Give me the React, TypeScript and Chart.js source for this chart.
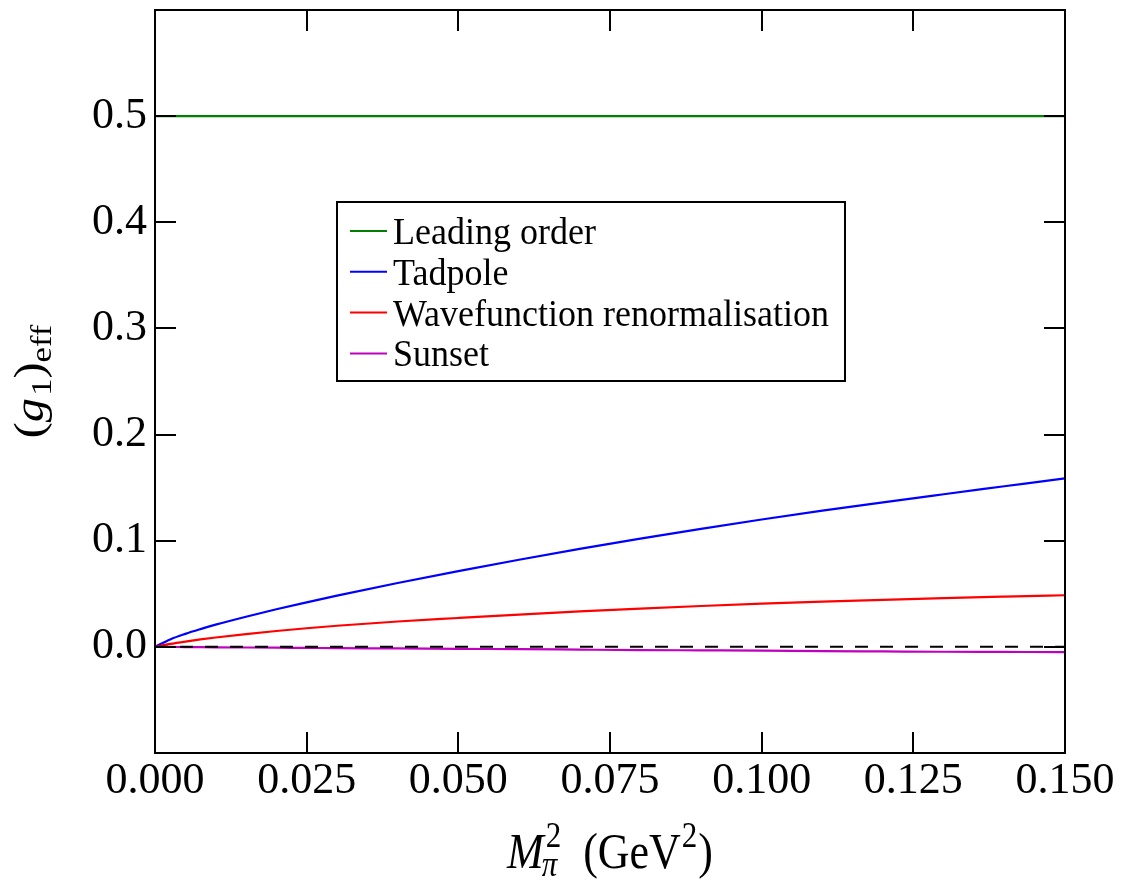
import React, { useEffect, useRef } from "react";
import { Chart, registerables } from "chart.js";

Chart.register(...registerables);

// ---- data ----
const xValues = [0, 0.0025, 0.005, 0.0075, 0.01, 0.015, 0.02, 0.025, 0.03, 0.04, 0.05, 0.06, 0.07, 0.08, 0.09, 0.1, 0.11, 0.12, 0.13, 0.14, 0.15];
const leadingOrder = [0.5, 0.5, 0.5, 0.5, 0.5, 0.5, 0.5, 0.5, 0.5, 0.5, 0.5, 0.5, 0.5, 0.5, 0.5, 0.5, 0.5, 0.5, 0.5, 0.5, 0.5];
const tadpole = [0, 0.007, 0.01225, 0.01675, 0.0209, 0.0284, 0.0354, 0.0419, 0.0482, 0.0602, 0.0714, 0.0821, 0.0923, 0.102, 0.1112, 0.12, 0.1283, 0.1362, 0.1438, 0.1513, 0.1588];
const wavefunction = [0, 0.00275, 0.005, 0.007, 0.0088, 0.01205, 0.01495, 0.01755, 0.0199, 0.0239, 0.0272, 0.0304, 0.0334, 0.0361, 0.0385, 0.0407, 0.0426, 0.0443, 0.0459, 0.0473, 0.0486];
const sunset = [0, -0.0001, -0.0002, -0.0003, -0.0004, -0.0006, -0.0008, -0.001, -0.0012, -0.0015, -0.0019, -0.0022, -0.0026, -0.003, -0.0033, -0.0036, -0.004, -0.0043, -0.0046, -0.0048, -0.005];
const zeroLineX = [0, 0.15];
const zeroLineY = [0, 0];

const seriesLabels = ["Leading order", "Tadpole", "Wavefunction renormalisation", "Sunset"];
const xTickValues = [0, 0.025, 0.05, 0.075, 0.1, 0.125, 0.15];
const yTickValues = [0, 0.1, 0.2, 0.3, 0.4, 0.5];

const SERIF = '"Liberation Serif", "DejaVu Serif", serif';
const TICK = 21;

function pts(xs: number[], ys: number[]) {
  return xs.map((x, i) => ({ x, y: ys[i] }));
}

function piece(ctx: CanvasRenderingContext2D, s: string, x: number, y: number, font: string, sx = 1, sy = 1) {
  ctx.save();
  ctx.translate(x, y);
  ctx.scale(sx, sy);
  ctx.font = font;
  ctx.fillText(s, 0, 0);
  ctx.restore();
}

function w(ctx: CanvasRenderingContext2D, s: string, font: string) {
  ctx.font = font;
  return ctx.measureText(s).width;
}

const decorPlugin = {
  id: "decor",
  afterDatasetsDraw(chart: any) {
    const { ctx, chartArea: a, scales } = chart;
    const xs = scales.x;
    const ys = scales.y;
    ctx.save();
    ctx.strokeStyle = "#000";
    ctx.lineWidth = 2;
    ctx.beginPath();
    for (const v of xTickValues) {
      const px = Math.round(xs.getPixelForValue(v));
      if (px <= a.left + 1 || px >= a.right - 1) continue;
      ctx.moveTo(px, a.bottom);
      ctx.lineTo(px, a.bottom - TICK);
      ctx.moveTo(px, a.top);
      ctx.lineTo(px, a.top + TICK);
    }
    for (const v of yTickValues) {
      const py = Math.round(ys.getPixelForValue(v));
      if (py <= a.top + 1 || py >= a.bottom - 1) continue;
      ctx.moveTo(a.left, py);
      ctx.lineTo(a.left + TICK, py);
      ctx.moveTo(a.right, py);
      ctx.lineTo(a.right - TICK, py);
    }
    ctx.stroke();
    ctx.strokeRect(a.left, a.top, a.right - a.left, a.bottom - a.top);

    // legend
    const lx = a.left + 182;
    const ly = a.top + 192;
    const lw = 508;
    const lh = 179;
    ctx.fillStyle = "#fff";
    ctx.fillRect(lx, ly, lw, lh);
    ctx.strokeRect(lx, ly, lw, lh);
    const legendFont = `36px ${SERIF}`;
    const items = chart.data.datasets.filter((d: any) => d.label);
    items.forEach((d: any, i: number) => {
      const rowY = ly + 29 + i * 40.8;
      ctx.strokeStyle = d.borderColor;
      ctx.lineWidth = 2;
      ctx.beginPath();
      ctx.moveTo(lx + 13, rowY);
      ctx.lineTo(lx + 50, rowY);
      ctx.stroke();
      ctx.fillStyle = "#000";
      ctx.textBaseline = "alphabetic";
      ctx.textAlign = "left";
      piece(ctx, d.label, lx + 56, rowY + 13, legendFont, 1, 1.05);
    });

    // x-axis title: M_pi^2 (GeV^2)
    ctx.fillStyle = "#000";
    ctx.textAlign = "left";
    ctx.textBaseline = "alphabetic";
    const big = `44px ${SERIF}`;
    const bigI = `italic 44px ${SERIF}`;
    const small = `31px ${SERIF}`;
    const smallI = `italic 31px ${SERIF}`;
    const sy = 1.15;
    const wM = w(ctx, "M", bigI);
    const wSup = Math.max(w(ctx, "2", small) + 2, w(ctx, "π", smallI) - 2);
    const gap = 22;
    const wOpen = w(ctx, "(GeV", big);
    const w2 = w(ctx, "2", small);
    const wClose = w(ctx, ")", big);
    const total = wM + wSup + gap + wOpen + w2 + 2 + wClose;
    const base = 868;
    let x = (a.left + a.right) / 2 - total / 2;
    piece(ctx, "M", x, base, bigI, 1, sy);
    x += wM;
    piece(ctx, "2", x + 2, base - 21, small, 1, sy);
    piece(ctx, "π", x - 2, base + 8, smallI, 1, sy);
    x += wSup + gap;
    piece(ctx, "(GeV", x, base, big, 1, sy);
    x += wOpen;
    piece(ctx, "2", x + 1, base - 21, small, 1, sy);
    x += w2 + 2;
    piece(ctx, ")", x, base, big, 1, sy);

    // y-axis title: (g_1)_eff
    ctx.save();
    ctx.translate(43, (a.top + a.bottom) / 2);
    ctx.rotate(-Math.PI / 2);
    const yBig = `42px ${SERIF}`;
    const yBigI = `italic 42px ${SERIF}`;
    const ySmall = `30px ${SERIF}`;
    const parts: [string, string, number][] = [
      ["(", yBig, 0],
      ["g", yBigI, 0],
      ["1", ySmall, 8],
      [")", yBig, 0],
      ["eff", ySmall, 8],
    ];
    let tw = 0;
    for (const p of parts) tw += w(ctx, p[0], p[1]) + (p[0] === "g" ? 2 : 0);
    ctx.scale(1.15, 1);
    let tx = -tw / 2;
    for (const p of parts) {
      ctx.font = p[1];
      ctx.fillText(p[0], tx, p[2]);
      tx += w(ctx, p[0], p[1]) + (p[0] === "g" ? 2 : 0);
    }
    ctx.restore();

    ctx.restore();
  },
};

export default function App() {
  const ref = useRef<HTMLCanvasElement | null>(null);

  useEffect(() => {
    if (!ref.current) return;
    const chart = new Chart(ref.current, {
      type: "line",
      data: {
        datasets: [
          {
            data: pts(zeroLineX, zeroLineY),
            borderColor: "#000000",
            borderWidth: 2,
            borderDash: [13, 12],
            pointRadius: 0,
            order: 0,
          } as any,
          {
            label: seriesLabels[0],
            data: pts(xValues, leadingOrder),
            borderColor: "#008000",
            borderWidth: 2.2,
            pointRadius: 0,
            order: 4,
          },
          {
            label: seriesLabels[1],
            data: pts(xValues, tadpole),
            borderColor: "#0000ff",
            borderWidth: 2.2,
            pointRadius: 0,
            cubicInterpolationMode: "monotone",
            order: 3,
          },
          {
            label: seriesLabels[2],
            data: pts(xValues, wavefunction),
            borderColor: "#ff0000",
            borderWidth: 2.2,
            pointRadius: 0,
            cubicInterpolationMode: "monotone",
            order: 2,
          },
          {
            label: seriesLabels[3],
            data: pts(xValues, sunset),
            borderColor: "#bf00bf",
            borderWidth: 2.2,
            pointRadius: 0,
            cubicInterpolationMode: "monotone",
            order: 1,
          },
        ],
      },
      options: {
        responsive: false,
        animation: false,
        layout: { padding: { left: 0, right: 57, top: 10, bottom: 0 } },
        plugins: {
          legend: { display: false },
          tooltip: { enabled: false },
        },
        scales: {
          x: {
            type: "linear",
            min: 0,
            max: 0.15,
            grid: { display: false, drawTicks: false },
            border: { display: false },
            afterBuildTicks: (s: any) => {
              s.ticks = xTickValues.map((v) => ({ value: v }));
            },
            afterFit: (s: any) => {
              s.height = 131;
              s.paddingLeft = 0;
              s.paddingRight = 0;
            },
            ticks: {
              color: "#000",
              padding: 2,
              maxRotation: 0,
              autoSkip: false,
              font: { family: SERIF, size: 44 },
              callback: (v: any) => Number(v).toFixed(3),
            },
          },
          y: {
            type: "linear",
            min: -0.1,
            max: 0.6,
            grid: { display: false, drawTicks: false },
            border: { display: false },
            afterBuildTicks: (s: any) => {
              s.ticks = yTickValues.map((v) => ({ value: v }));
            },
            afterFit: (s: any) => {
              s.width = 155;
              s.paddingTop = 0;
              s.paddingBottom = 0;
            },
            ticks: {
              color: "#000",
              padding: 8,
              autoSkip: false,
              font: { family: SERIF, size: 44 },
              callback: (v: any) => Number(v).toFixed(1),
            },
          },
        },
      },
      plugins: [decorPlugin],
    });
    return () => chart.destroy();
  }, []);

  return (
    <div style={{ position: "fixed", left: 0, top: 0, width: 1122, height: 884, background: "#fff" }}>
      <canvas ref={ref} width={1122} height={884} style={{ display: "block", width: 1122, height: 884 }} />
    </div>
  );
}
